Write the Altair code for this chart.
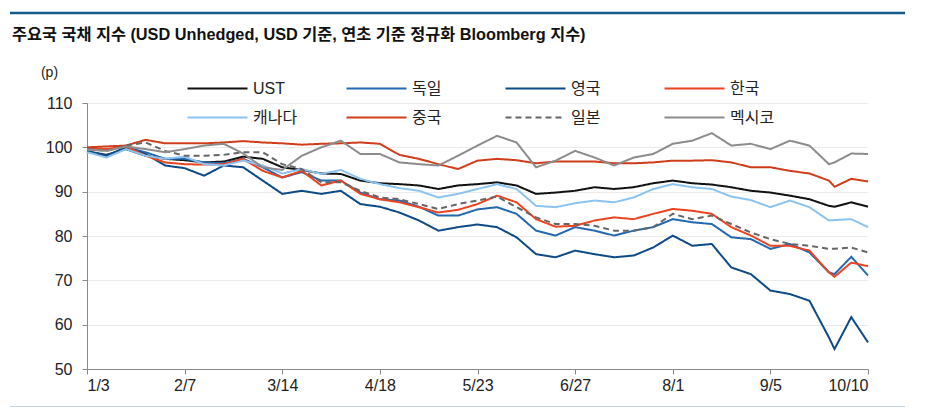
import altair as alt
import pandas as pd

# ---- data ----
dates = [
    "2022-01-03", "2022-01-10", "2022-01-17", "2022-01-24", "2022-01-31",
    "2022-02-07", "2022-02-14", "2022-02-21", "2022-02-28", "2022-03-07",
    "2022-03-14", "2022-03-21", "2022-03-28", "2022-04-04", "2022-04-11",
    "2022-04-18", "2022-04-25", "2022-05-02", "2022-05-09", "2022-05-16",
    "2022-05-23", "2022-05-30", "2022-06-06", "2022-06-13", "2022-06-20",
    "2022-06-27", "2022-07-04", "2022-07-11", "2022-07-18", "2022-07-25",
    "2022-08-01", "2022-08-08", "2022-08-15", "2022-08-22", "2022-08-29",
    "2022-09-05", "2022-09-12", "2022-09-19", "2022-09-26", "2022-09-28",
    "2022-10-04", "2022-10-10",
]

series = ["UST", "독일", "영국", "한국", "캐나다", "중국", "일본", "멕시코"]
colors = ["#111111", "#2468b0", "#0d4a86", "#ec4321", "#8dc3f0", "#cf3d1b", "#666666", "#8c8c8c"]
widths = [2.0, 2.0, 2.8, 2.2, 2.4, 2.0, 2.2, 2.0]
dashes = [[1, 0], [1, 0], [1, 0], [1, 0], [1, 0], [1, 0], [6, 4], [1, 0]]

ust = [99.1, 98.3, 99.6, 98.1, 97.4, 97.1, 96.6, 96.8, 97.9, 97.4,
       95.5, 94.9, 94.1, 94.0, 92.5, 91.9, 91.7, 91.4, 90.6, 91.4,
       91.7, 92.1, 91.4, 89.5, 89.8, 90.2, 91.0, 90.6, 91.0, 91.9,
       92.5, 91.9, 91.6, 91.0, 90.2, 89.8, 89.1, 88.3, 86.8, 86.6,
       87.6, 86.6]
germany = [99.1, 98.1, 100.0, 98.9, 97.4, 97.4, 96.6, 96.4, 97.4, 95.5,
           93.2, 94.4, 92.5, 92.5, 89.8, 88.3, 88.0, 86.6, 84.6, 84.6,
           86.0, 86.5, 85.0, 81.2, 80.1, 82.0, 81.2, 80.1, 81.2, 82.0,
           83.8, 83.1, 82.7, 79.7, 79.3, 77.1, 78.2, 76.3, 71.8, 71.4,
           75.3, 71.1]
uk = [99.1, 98.1, 100.0, 98.5, 95.9, 95.3, 93.6, 95.9, 95.5, 92.5,
      89.5, 90.2, 89.5, 90.2, 87.2, 86.6, 85.3, 83.5, 81.2, 82.0,
      82.6, 82.0, 79.7, 75.9, 75.2, 76.7, 75.9, 75.2, 75.6, 77.4,
      80.1, 77.8, 78.2, 72.9, 71.4, 67.7, 66.9, 65.4, 57.1, 54.5,
      61.7, 56.0]
korea = [99.8, 99.6, 100.2, 98.1, 96.6, 96.2, 96.1, 96.2, 97.4, 94.7,
         93.2, 94.7, 91.4, 92.5, 89.5, 88.3, 87.6, 86.5, 85.3, 85.9,
         87.2, 89.1, 87.6, 83.8, 82.1, 82.3, 83.5, 84.2, 83.8, 85.0,
         86.1, 85.7, 85.0, 82.0, 80.1, 77.8, 77.8, 76.7, 71.8, 70.8,
         74.0, 73.2]
canada = [98.9, 97.7, 99.6, 98.1, 97.4, 97.9, 96.2, 95.9, 97.0, 95.9,
          94.1, 95.1, 94.0, 94.9, 92.9, 91.7, 90.8, 90.2, 88.7, 89.5,
          90.6, 91.7, 90.6, 86.8, 86.5, 87.4, 88.0, 87.6, 88.7, 90.6,
          91.7, 91.0, 90.6, 88.9, 88.1, 86.5, 88.0, 86.5, 83.5, 83.6,
          83.8, 82.0]
china = [100.0, 100.2, 100.4, 101.7, 100.9, 100.9, 100.9, 101.1, 101.4, 101.1,
         100.9, 100.6, 100.8, 100.9, 101.1, 100.8, 98.3, 97.4, 96.2, 95.1,
         97.0, 97.4, 97.1, 96.4, 96.8, 96.8, 96.8, 96.4, 96.4, 96.6,
         97.0, 97.0, 97.1, 96.6, 95.5, 95.5, 94.7, 94.1, 92.5, 91.1,
         92.9, 92.3]
japan = [99.6, 99.2, 100.4, 101.1, 99.2, 98.1, 98.1, 98.3, 98.9, 98.9,
         96.2, 95.1, 92.1, 92.1, 90.2, 88.7, 88.3, 87.2, 86.1, 87.2,
         88.0, 88.9, 86.5, 84.2, 82.7, 82.7, 82.3, 81.2, 81.2, 82.0,
         85.0, 83.8, 84.6, 82.7, 80.8, 79.3, 78.2, 77.8, 77.1, 77.1,
         77.4, 76.3]
mexico = [99.5, 99.2, 100.2, 99.6, 98.9, 99.6, 100.4, 100.8, 98.6, 95.5,
          94.9, 98.1, 100.0, 101.5, 98.5, 98.5, 96.6, 96.2, 95.9, 98.1,
          100.4, 102.6, 101.1, 95.5, 97.0, 99.2, 97.7, 95.9, 97.7, 98.5,
          100.8, 101.5, 103.2, 100.4, 100.8, 99.6, 101.5, 100.4, 96.2, 96.6,
          98.6, 98.5]

tick_dates = [(2022, 1, 3), (2022, 2, 7), (2022, 3, 14), (2022, 4, 18), (2022, 5, 23),
              (2022, 6, 27), (2022, 8, 1), (2022, 9, 5), (2022, 10, 10)]
y_ticks = [50, 60, 70, 80, 90, 100, 110]

title_text = "주요국 국채 지수 (USD Unhedged, USD 기준, 연초 기준 정규화 Bloomberg 지수)"

# ---- build table ----
values = {"UST": ust, "독일": germany, "영국": uk, "한국": korea,
          "캐나다": canada, "중국": china, "일본": japan, "멕시코": mexico}
rows = []
for s in series:
    for d, v in zip(dates, values[s]):
        rows.append({"date": d + "T00:00:00", "series": s, "value": v})
df = pd.DataFrame(rows)

FONT = "Liberation Sans, Noto Sans CJK KR, sans-serif"
RULE = "#175a8e"


def dt(t):
    return alt.DateTime(year=t[0], month=t[1], date=t[2])


legend = alt.Legend(title=None)

lines = alt.Chart(df).mark_line(clip=False).encode(
    x=alt.X("date:T",
            scale=alt.Scale(domain=[dt(tick_dates[0]), dt(tick_dates[-1])], nice=False),
            axis=alt.Axis(values=[dt(t) for t in tick_dates],
                          labelExpr="(month(datum.value)+1) + '/' + date(datum.value)",
                          title=None, grid=False, tickSize=5, labelPadding=3,
                          labelFontSize=16, labelColor="#222", labelFont=FONT,
                          domainColor="#8a8a8a", tickColor="#8a8a8a",
                          labelOverlap=False)),
    y=alt.Y("value:Q",
            scale=alt.Scale(domain=[50, 110], nice=False, zero=False),
            axis=alt.Axis(values=y_ticks, title="(p)", titleAngle=0,
                          titleX=-38, titleY=-31, titleAlign="center",
                          titleBaseline="middle", titleFontSize=14,
                          titleFontWeight="normal", titleFont=FONT, titleColor="#222",
                          tickSize=5, labelPadding=10, labelFontSize=16,
                          labelColor="#222", labelFont=FONT,
                          domainColor="#8a8a8a", tickColor="#8a8a8a",
                          gridColor="#ebebeb", gridWidth=1)),
    color=alt.Color("series:N", sort=series,
                    scale=alt.Scale(domain=series, range=colors), legend=legend),
    strokeDash=alt.StrokeDash("series:N", sort=series,
                              scale=alt.Scale(domain=series, range=dashes), legend=legend),
    strokeWidth=alt.StrokeWidth("series:N",
                                scale=alt.Scale(domain=series, range=widths), legend=None),
)

one = pd.DataFrame({"k": [0]})
top_rule = alt.Chart(one).mark_rule(color=RULE, strokeWidth=2.5).encode(
    x=alt.value(-77), x2=alt.value(818), y=alt.value(-90))
bottom_rule = alt.Chart(one).mark_rule(color=RULE, strokeWidth=2.5).encode(
    x=alt.value(-77), x2=alt.value(818), y=alt.value(305))
title_mark = alt.Chart(one).mark_text(
    text=title_text, align="left", baseline="middle",
    font=FONT, fontSize=16.3, fontWeight="bold", color="#111",
).encode(x=alt.value(-75), y=alt.value(-68))

chart = alt.layer(top_rule, bottom_rule, title_mark, lines).properties(
    width=781, height=266,
    autosize=alt.AutoSizeParams(type="none"),
    padding={"left": 79, "top": 95, "right": 60, "bottom": 38},
).configure_view(stroke=None).configure_legend(
    orient="none", legendX=117.5, legendY=-27.5, columns=4, direction="horizontal",
    symbolType="M-2.5,0H2.5", symbolSize=576, symbolStrokeWidth=2.5,
    labelFontSize=16, labelFont=FONT, labelColor="#222", labelOffset=22.5,
    columnPadding=45, rowPadding=8, gridAlign="all", labelLimit=300, padding=0,
)

chart.save("out.html", embed_options={"renderer": "svg", "actions": False})
